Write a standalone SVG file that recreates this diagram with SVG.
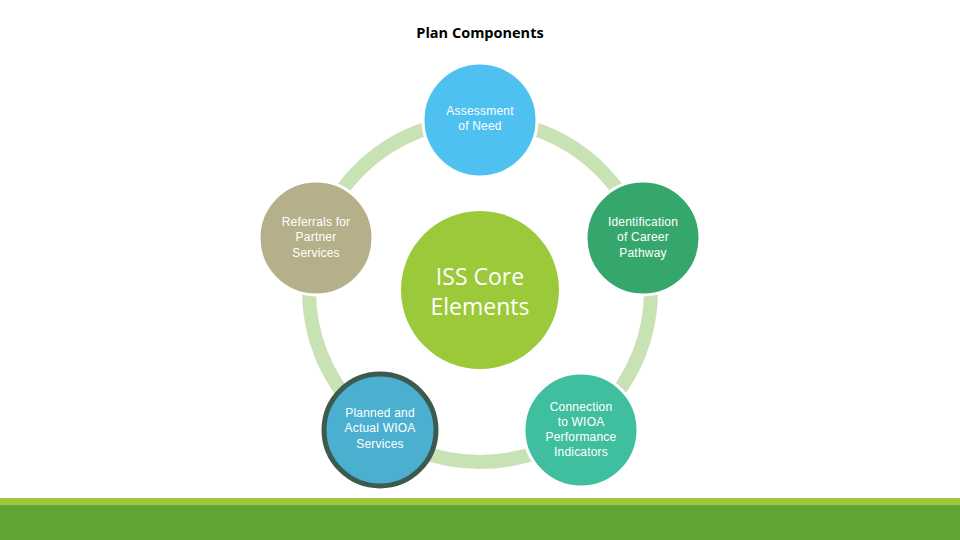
<svg xmlns="http://www.w3.org/2000/svg" width="960" height="540" viewBox="0 0 960 540">
<style>
.lbl{font-family:"Liberation Sans",Arial,sans-serif;font-size:12px;fill:#ffffff;text-anchor:middle;letter-spacing:0.2px}
.node{stroke:#ffffff;stroke-width:3}
</style>
<rect width="960" height="540" fill="#ffffff"/>
<text x="480" y="38" text-anchor="middle" font-family="'Open Sans','Liberation Sans',sans-serif" font-weight="bold" font-size="14.5" fill="#000000">Plan Components</text>
<g id="connectors">
<circle cx="480" cy="291" r="171" fill="none" stroke="#c9e2b3" stroke-width="14"/>
</g>
<g id="center">
<circle cx="480" cy="290" r="79" fill="#9bc93a"/>
<text x="480" y="285" text-anchor="middle" font-family="'Open Sans','Liberation Sans',sans-serif" font-size="23" fill="#ffffff">ISS Core</text>
<text x="480" y="315" text-anchor="middle" font-family="'Open Sans','Liberation Sans',sans-serif" font-size="23" fill="#ffffff">Elements</text>
</g>
<g id="assessment">
<circle class="node" cx="480" cy="120" r="57" fill="#4fc1f0"/>
<text class="lbl" x="480" y="115">Assessment</text>
<text class="lbl" x="480" y="130">of Need</text>
</g>
<g id="identification">
<circle class="node" cx="643" cy="238" r="57" fill="#36a76c"/>
<text class="lbl" x="643" y="226">Identification</text>
<text class="lbl" x="643" y="241">of Career</text>
<text class="lbl" x="643" y="257">Pathway</text>
</g>
<g id="connection">
<circle class="node" cx="581" cy="430" r="57" fill="#3fbf9f"/>
<text class="lbl" x="581" y="411">Connection</text>
<text class="lbl" x="581" y="426">to WIOA</text>
<text class="lbl" x="581" y="441">Performance</text>
<text class="lbl" x="581" y="456">Indicators</text>
</g>
<g id="planned">
<circle cx="380" cy="430" r="56" fill="#4bb0d0" stroke="#3d5a4f" stroke-width="5"/>
<text class="lbl" x="380" y="417">Planned and</text>
<text class="lbl" x="380" y="432">Actual WIOA</text>
<text class="lbl" x="380" y="448">Services</text>
</g>
<g id="referrals">
<circle class="node" cx="316" cy="238" r="57" fill="#b5b08a"/>
<text class="lbl" x="316" y="226">Referrals for</text>
<text class="lbl" x="316" y="241">Partner</text>
<text class="lbl" x="316" y="257">Services</text>
</g>
<rect x="0" y="498" width="960" height="7" fill="#9bc93a"/>
<rect x="0" y="505" width="960" height="35" fill="#62a537"/>
</svg>
